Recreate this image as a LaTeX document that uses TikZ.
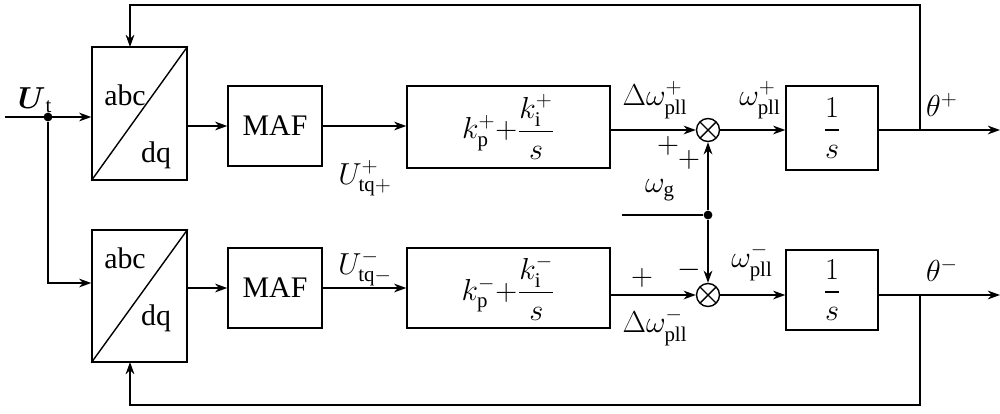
\documentclass[tikz,border=0pt]{standalone}
\usepackage{amsmath}
\usepackage{fontspec}
\setmainfont{Liberation Serif}
\usetikzlibrary{arrows.meta,positioning}
\begin{document}
\begin{tikzpicture}[x=0.02cm,y=-0.02cm,
  font=\fontsize{17}{20}\selectfont,
  line width=0.8pt, >={Stealth[length=7pt,width=5pt]},
  blk/.style 2 args={draw,rectangle,inner sep=0pt,minimum width=#1*0.02cm,minimum height=#2*0.02cm},
  sumj/.style={draw,circle,inner sep=0pt,minimum size=0.46cm,
    path picture={\draw (path picture bounding box.north west)--(path picture bounding box.south east)
      (path picture bounding box.north east)--(path picture bounding box.south west);}},
  dot/.style={circle,fill,inner sep=0pt,minimum size=5pt}]

\useasboundingbox (0,0) rectangle (1000,413);

%% - blocks
%% - --------------------------------------
\node[blk={95}{133}] (tf1) at (139.5,113.5) {};
\node[blk={95}{132}] (tf2) at (139.5,296) {};
\draw (tf1.south west) -- (tf1.north east);
\draw (tf2.south west) -- (tf2.north east);
\node at (125,95) {abc};  \node at (156,155) {dq};
\node at (125,258) {abc}; \node at (156,318) {dq};

\node[blk={94}{80}] (maf1) at (275,126) {MAF};
\node[blk={94}{80}] (maf2) at (275,288) {MAF};
\node[blk={203}{82}] (pi1) at (508.5,127) {$k_{\mathrm{p}}^{+}{+}\dfrac{k_{\mathrm{i}}^{+}}{s}$};
\node[blk={203}{80}] (pi2) at (508.5,288) {$k_{\mathrm{p}}^{-}{+}\dfrac{k_{\mathrm{i}}^{-}}{s}$};
\node[sumj] (s1) at (708,130) {};
\node[sumj] (s2) at (708,295) {};
\node[blk={92}{84}] (int1) at (832,128) {$\dfrac{1}{s}$};
\node[blk={92}{80}] (int2) at (832,290) {$\dfrac{1}{s}$};

%% - input
%% - --------------------------------------
\coordinate (in) at (5,117);
\node[dot] (d1) at (48,117) {};
\draw[->] (in) -- (tf1.west |- in);
\draw[->] (d1) |- (tf2.west |- 0,283);
\node at (35,100) {$\boldsymbol{U}_{\mathrm{t}}$};

%% - forward paths
%% - --------------------------------------
\draw[->] (tf1.east |- maf1) -- (maf1);
\draw[->] (tf2.east |- maf2) -- (maf2);
\draw[->] (maf1) -- (pi1.west |- maf1);
\draw[->] (maf2) -- (pi2.west |- maf2);
\draw[->] (pi1.east |- s1) -- (s1);
\draw[->] (pi2.east |- s2) -- (s2);
\draw[->] (s1) -- (int1.west |- s1);
\draw[->] (s2) -- (int2.west |- s2);
\coordinate (o1) at (1000,130);
\coordinate (o2) at (1000,295);
\draw[->] (int1.east |- o1) -- (o1);
\draw[->] (int2.east |- o2) -- (o2);

%% - feedback
%% - --------------------------------------
\coordinate (f1) at (920,130);
\coordinate (f2) at (920,295);
\draw[->] (f1) |- (130,5) -- (130,47);
\draw[->] (f2) |- (130,405) -- (130,362);

%% - omega_g
%% - --------------------------------------
\coordinate (wg) at (622,215);
\node[dot] (d2) at (708,215) {};
\draw (wg) -- (d2);
\draw[->] (d2) -- (s1);
\draw[->] (d2) -- (s2);

%% - labels
%% - --------------------------------------
\node at (365,178) {$U_{\mathrm{tq}+}^{+}$};
\node at (365,268) {$U_{\mathrm{tq}-}^{-}$};
\node at (655,100) {$\Delta\omega_{\mathrm{pll}}^{+}$};
\node at (655,327) {$\Delta\omega_{\mathrm{pll}}^{-}$};
\node at (760,100) {$\omega_{\mathrm{pll}}^{+}$};
\node at (752,262) {$\omega_{\mathrm{pll}}^{-}$};
\node at (942,105) {$\theta^{+}$};
\node at (942,270) {$\theta^{-}$};
\node at (660,190) {$\omega_{\mathrm{g}}$};
\node at (668,146) {$+$};
\node at (689,160) {$+$};
\node at (642,278) {$+$};
\node at (689,270) {$-$};
\end{tikzpicture}
\end{document}
